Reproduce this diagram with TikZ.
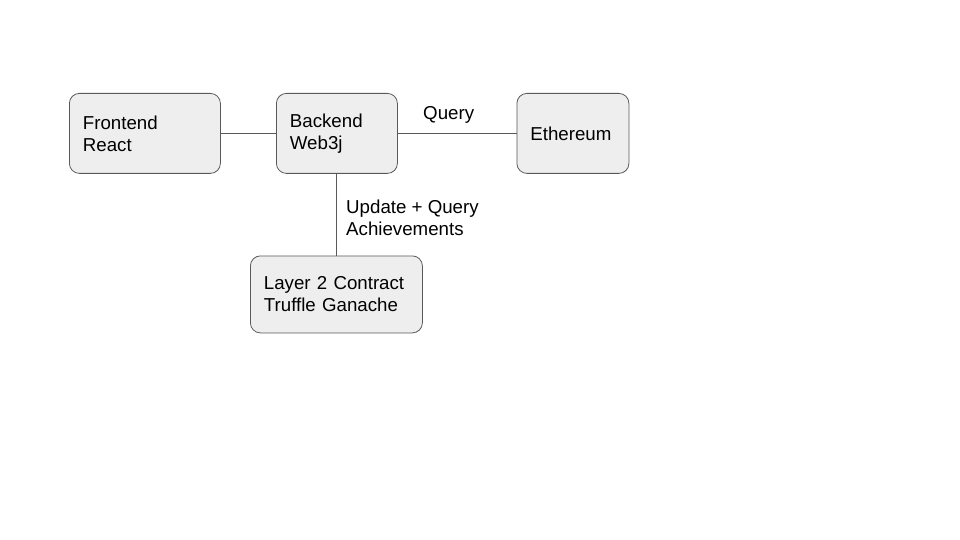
\documentclass[tikz,border=0pt]{standalone}
\usepackage{fontspec}
\setmainfont{Liberation Sans}
\definecolor{boxfill}{HTML}{EEEEEE}
\definecolor{boxline}{HTML}{595959}
\definecolor{linkline}{HTML}{595959}
\begin{document}
\begin{tikzpicture}[x=1pt,y=-1pt,
  comp/.style={draw=boxline, fill=boxfill, rounded corners=10pt, line width=0.8pt,
    align=left, anchor=north west, inner xsep=13.5pt, inner ysep=0pt,
    font=\fontsize{18.7}{22}\selectfont},
  link/.style={draw=linkline, line width=0.8pt},
  lbl/.style={font=\fontsize{18.7}{22}\selectfont, align=left, inner sep=0pt}
]
\useasboundingbox (0,0) rectangle (960,540);
\node[comp, minimum width=151pt, minimum height=80pt, text width=124pt] (fe) at (69,93) {Frontend\\React};
\node[comp, minimum width=121pt, minimum height=80pt, text width=94pt] (be) at (276,93) {Backend\\Web3j};
\node[comp, minimum width=112pt, minimum height=80pt, text width=85pt] (eth) at (516.5,93) {Ethereum};
\node[comp, minimum width=172pt, minimum height=77pt, text width=145pt] (l2) at (250,255.5) {\mbox{Layer 2 Contract}\\\mbox{Truffle Ganache}};
\draw[link] (fe.east) -- (be.west);
\draw[link] (be.east) -- (eth.west);
\draw[link] (be.south -| 336.5,0) -- (l2.north -| 336.5,0);
\node[lbl, anchor=base west] (q) at (423,120) {Query};
\node[lbl, anchor=north west] (uq) at (346,199.5) {Update + Query\\Achievements};
\end{tikzpicture}
\end{document}
